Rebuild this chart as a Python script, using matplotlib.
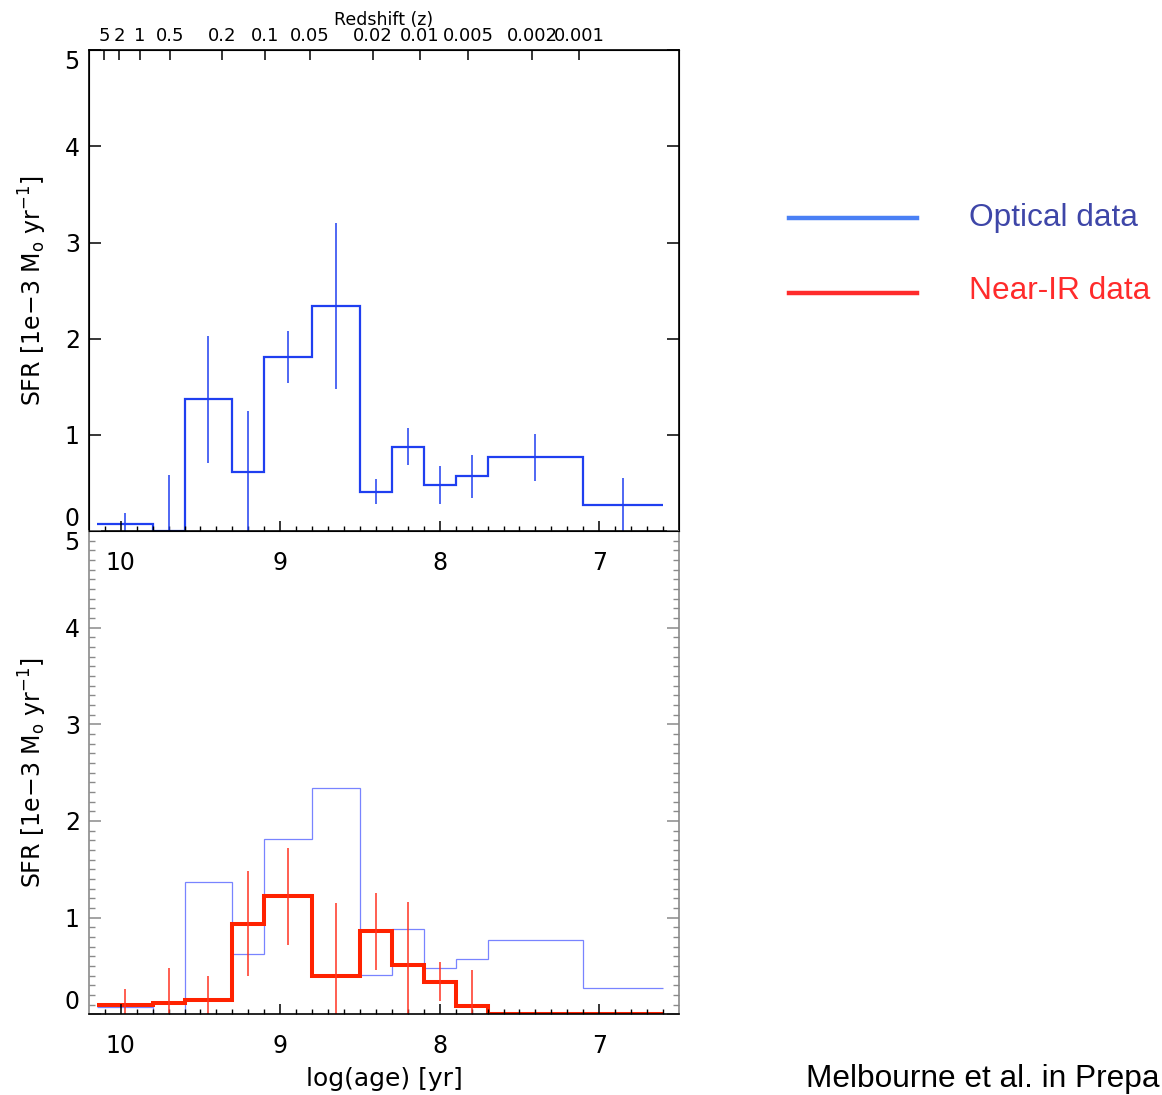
import numpy as np
import matplotlib.pyplot as plt
from matplotlib.lines import Line2D

# bin edges in log(age) and SFR values (1e-3 Msun/yr)
edges = np.array([10.15, 9.8, 9.6, 9.3, 9.1, 8.8, 8.5, 8.3, 8.1, 7.9, 7.7, 7.1, 6.6])
opt_sfr = np.array([0.08, 0.0, 1.37, 0.62, 1.81, 2.34, 0.41, 0.88, 0.48, 0.57, 0.77, 0.27])
opt_err = np.array([0.11, 0.58, 0.66, 0.63, 0.27, 0.86, 0.13, 0.19, 0.20, 0.22, 0.245, 0.28])
nir_sfr = np.array([0.10, 0.12, 0.15, 0.94, 1.22, 0.40, 0.86, 0.51, 0.34, 0.09, 0.0, 0.0])
nir_err = np.array([0.16, 0.36, 0.25, 0.54, 0.50, 0.75, 0.40, 0.65, 0.20, 0.37, 0.0, 0.0])
centers = 0.5 * (edges[:-1] + edges[1:])

# redshift axis on top
z_labels = ['5', '2', '1', '0.5', '0.2', '0.1', '0.05', '0.02', '0.01', '0.005', '0.002', '0.001']
z_logage = [10.105, 10.011, 9.879, 9.691, 9.365, 9.095, 8.813, 8.418, 8.124, 7.823, 7.422, 7.127]

x_ticks = [10, 9, 8, 7]
y_ticks = [0, 1, 2, 3, 4, 5]

plt.rcParams['font.family'] = 'DejaVu Sans'

fig = plt.figure(figsize=(11.62, 10.95), dpi=100)
L, W = 88.8 / 1162, 590.2 / 1162
ax_top = fig.add_axes([L, 1 - 531.2 / 1095, W, 481 / 1095])
ax_bot = fig.add_axes([L, 1 - 1014.4 / 1095, W, 483.5 / 1095])
ax_bot.patch.set_visible(False)

blue = '#1f3ff0'
red = '#ff2200'


def style(ax, spine_col):
    ax.set_xlim(10.2, 6.5)
    ax.set_ylim(0, 5)
    ax.set_xticks(x_ticks)
    ax.set_xticks(np.arange(6.6, 10.2, 0.1), minor=True)
    ax.set_yticks(y_ticks)
    ax.set_yticks(np.arange(0, 5.01, 0.1), minor=True)
    ax.tick_params(axis='x', which='major', direction='in', length=7, width=1.1,
                   labelsize=17, pad=14, top=False)
    ax.tick_params(axis='x', which='minor', direction='in', length=3.6, width=1.0, top=False)
    ax.tick_params(axis='y', which='major', direction='in', length=8.6, width=1.1,
                   labelsize=17, pad=6.5, left=True, right=True, color=spine_col)
    ax.tick_params(axis='y', which='minor', direction='in', length=4.3, width=1.0,
                   left=True, right=True, color=spine_col)
    for s in ax.spines.values():
        s.set_linewidth(1.2)
    ax.spines['left'].set_color(spine_col)
    ax.spines['right'].set_color(spine_col)
    labs = ax.get_yticklabels()
    labs[0].set_va('bottom')
    labs[-1].set_va('top')


style(ax_top, 'black')
style(ax_bot, '#8a8a8a')
ax_bot.spines['top'].set_visible(False)

# top panel: optical
ax_top.stairs(opt_sfr[::-1], edges[::-1], baseline=None, color=blue, lw=1.6)
ax_top.errorbar(centers, opt_sfr, yerr=opt_err, fmt='none', ecolor=blue, elinewidth=1.1, capsize=0)

# bottom panel: optical faint + near-IR
ax_bot.stairs(opt_sfr[::-1], edges[::-1], baseline=None, color='#7884ff', lw=0.9)
ax_bot.stairs(nir_sfr[::-1], edges[::-1], baseline=None, color=red, lw=2.9)
ax_bot.errorbar(centers[nir_err > 0], nir_sfr[nir_err > 0], yerr=nir_err[nir_err > 0],
                fmt='none', ecolor='#ff3322', elinewidth=1.1, capsize=0)

for ax in (ax_top, ax_bot):
    ax.set_ylabel(r'SFR [1e$-$3 M$_{\rm o}$ yr$^{-1}$]', fontsize=17)
    ax.yaxis.set_label_coords(-0.068, 0.5)
ax_bot.set_xlabel('log(age) [yr]', fontsize=18)
ax_bot.xaxis.set_label_coords(0.5, -0.108)

# redshift axis
ax_z = ax_top.twiny()
ax_z.set_xlim(ax_top.get_xlim())
ax_z.set_xticks(z_logage)
ax_z.set_xticklabels(z_labels)
ax_z.minorticks_off()
ax_z.tick_params(axis='x', direction='in', length=7, width=1.1, labelsize=13, pad=3.5)
ax_z.set_xlabel('Redshift (z)', fontsize=12.5, labelpad=1.5)

# legend drawn by hand
fig.add_artist(Line2D([789 / 1162, 917 / 1162], [1 - 218 / 1095] * 2, color='#4a80f5', lw=3.2))
fig.add_artist(Line2D([789 / 1162, 917 / 1162], [1 - 292.5 / 1095] * 2, color='#ff2b2b', lw=3.2))
fig.text(969 / 1162, 1 - 226 / 1095, 'Optical data', color='#3e46a8', fontsize=22.8,
         family='Liberation Sans', va='baseline')
fig.text(969 / 1162, 1 - 299 / 1095, 'Near-IR data', color='#ff2b2b', fontsize=22.8,
         family='Liberation Sans', va='baseline')
# the credit line runs off the right edge in the original; only the visible part is kept
fig.text(1160 / 1162, 1 - 1087 / 1095, 'Melbourne et al. in Prepa', color='black',
         fontsize=22.8, family='Liberation Sans', va='baseline', ha='right')

fig.savefig('out.png', dpi=100)
